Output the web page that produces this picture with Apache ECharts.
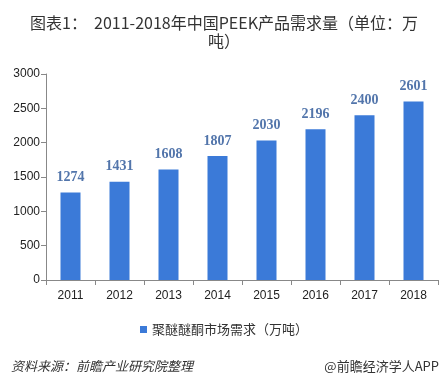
<!DOCTYPE html>
<html><head><meta charset="utf-8">
<script src="https://cdn.jsdelivr.net/npm/echarts@6/dist/echarts.min.js"></script>
<style>html,body{margin:0;padding:0;background:#fff}#c{width:448px;height:385px}</style>
</head><body><div id="c"></div>
<script>
var categories = ['2011','2012','2013','2014','2015','2016','2017','2018'];
var demand = [1274,1431,1608,1807,2030,2196,2400,2601];
var seriesName = '聚醚醚酮市场需求（万吨）';
var yTicks = [0,500,1000,1500,2000,2500,3000];

var chart = echarts.init(document.getElementById('c'));
chart.setOption({
  backgroundColor:'#fff',
  animation:false,
  title:[{
    text:'图表1：  2011-2018年中国PEEK产品需求量（单位：万\n吨）',
    left:'center', top:9,
    textStyle:{fontSize:16,fontWeight:'normal',color:'#333',lineHeight:18,align:'center',fontFamily:'Noto Sans CJK SC, sans-serif'}
  },{
    text:'资料来源：前瞻产业研究院整理',
    left:6, top:355,
    textStyle:{fontSize:13,fontWeight:'normal',fontStyle:'italic',color:'#333',fontFamily:'Noto Sans CJK SC, sans-serif'}
  },{
    text:'@前瞻经济学人APP',
    right:4, top:355,
    textStyle:{fontSize:13,fontWeight:'normal',color:'#333',fontFamily:'Noto Sans CJK SC, sans-serif'}
  }],
  legend:{
    data:[seriesName], top:318, left:'center',
    icon:'rect', itemWidth:7, itemHeight:7, itemGap:4,
    textStyle:{fontSize:13,color:'#333',fontFamily:'Noto Sans CJK SC, sans-serif'}
  },
  grid:{left:46,right:10,top:74,bottom:105},
  xAxis:{
    type:'category', data:categories,
    axisLine:{lineStyle:{color:'#888'}},
    axisTick:{show:true,alignWithLabel:false,length:5,lineStyle:{color:'#888'}},
    axisLabel:{color:'#222',fontSize:12,margin:10,fontFamily:'Liberation Sans, Arial'}
  },
  yAxis:{
    type:'value', min:yTicks[0], max:yTicks[yTicks.length-1], interval:500,
    axisLine:{show:true,lineStyle:{color:'#888'}},
    axisTick:{show:true,length:5,lineStyle:{color:'#888'}},
    splitLine:{show:false},
    axisLabel:{color:'#222',fontSize:12,margin:6,fontFamily:'Liberation Sans, Arial',formatter:function(v){return String(v);}}
  },
  series:[{
    name:seriesName, type:'bar', data:demand, barWidth:20,
    itemStyle:{color:'#3b7ad8'},
    label:{show:true,position:'top',distance:8,color:'#5275ab',fontSize:14,fontWeight:'bold',fontFamily:'Liberation Serif, serif'}
  }]
});
</script></body></html>
